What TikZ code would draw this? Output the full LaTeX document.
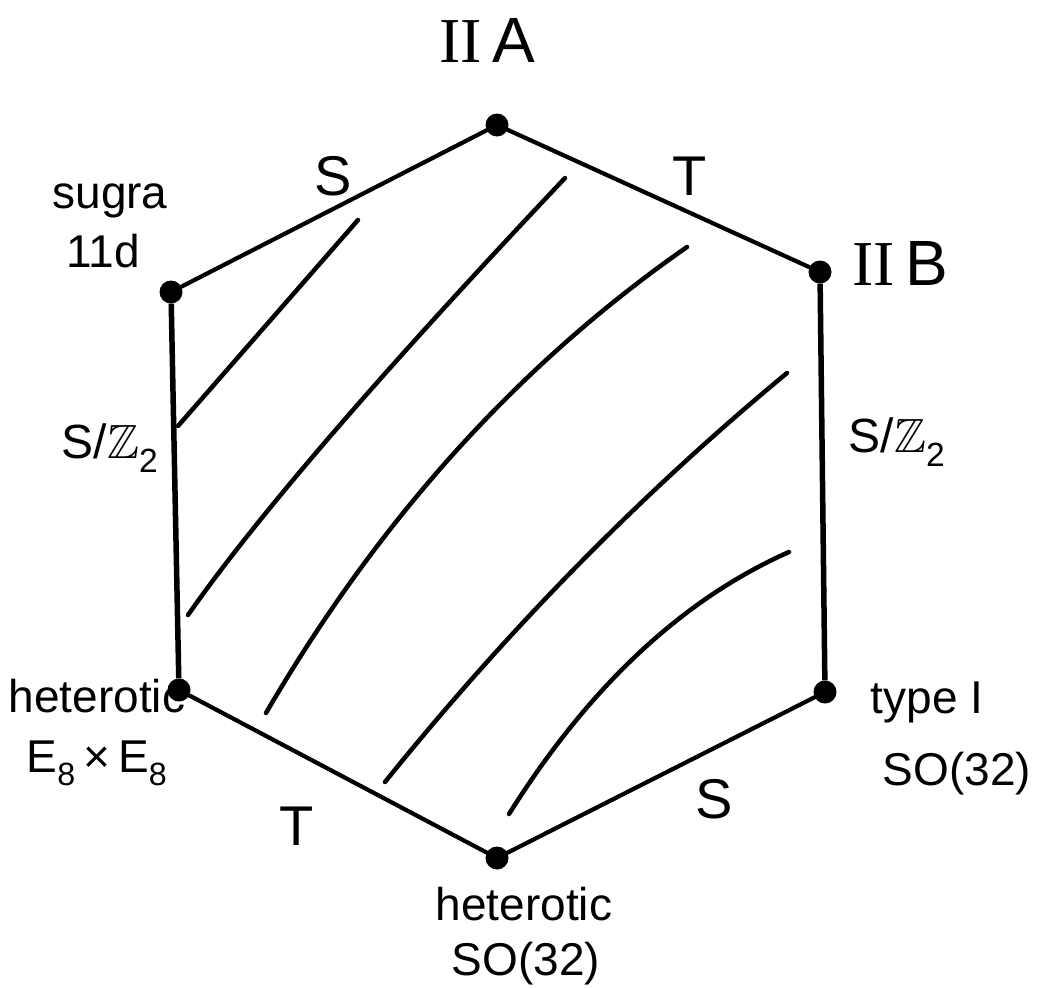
\documentclass[tikz,border=0pt]{standalone}
\usepackage{fontspec}
\usepackage{amssymb}
\setmainfont{Liberation Sans}
\newfontfamily\romfont{Liberation Serif}
\begin{document}
\begin{tikzpicture}[x=1pt,y=-1pt,
  edge/.style={line width=4.2pt,line cap=round},
  vert/.style={line width=5.5pt},
  vdot/.style={circle,fill=black,inner sep=0pt,minimum size=23pt},
  hatch/.style={line width=4.5pt,line cap=round},
  lbl/.style={inner sep=0pt,anchor=base,font=\fontsize{46}{46}\selectfont},
  big/.style={inner sep=0pt,anchor=base,font=\fontsize{64}{64}\selectfont},
  edl/.style={inner sep=0pt,anchor=base,font=\fontsize{56}{56}\selectfont},
  zl/.style={inner sep=0pt,anchor=base,font=\fontsize{48}{48}\selectfont}]
\useasboundingbox (0,0) rectangle (1061,988);
% vertices
\node[vdot] (vA) at (497,125) {};
\node[vdot] (vB) at (820,272) {};
\node[vdot] (vI) at (825,692) {};
\node[vdot] (vH) at (497,858) {};
\node[vdot] (vE) at (179,690) {};
\node[vdot] (vM) at (171,292) {};
% edges
\draw[edge] (vM) -- (vA);
\draw[edge] (vA) -- (vB);
\draw[vert] (vB) -- (vI);
\draw[edge] (vI) -- (vH);
\draw[edge] (vH) -- (vE);
\draw[vert] (vE) -- (vM);
% hatching
\draw[hatch] (178,426) -- (358,220);
\draw[hatch] (188,615) .. controls (255.7,518) and (381.3,372.3) .. (565,178);
\draw[hatch] (266,713) .. controls (379,519) and (519.3,363.7) .. (687,247);
\draw[hatch] (385,782) .. controls (508.3,629) and (642.3,492.7) .. (787,373);
\draw[hatch] (509,814) .. controls (589,686.7) and (682.3,599.3) .. (789,552);
% vertex labels
\node[big] (tIIA) at (487,62) {{\romfont II}\,A};
\node[big] (tIIB) at (900,285) {{\romfont II}\,B};
\node[lbl] (tsug) at (110,208) {sugra};
\node[lbl] (t11d) at (103,267) {11d};
\node[lbl] (thetE) at (97,712) {heterotic};
\node[lbl] (tEE) at (97,772) {E\textsubscript{8}\,×\,E\textsubscript{8}};
\node[lbl] (ttyp) at (927,713) {type I};
\node[lbl] (tso1) at (957,785) {SO(32)};
\node[lbl] (thetS) at (524,920) {heterotic};
\node[lbl] (tso2) at (526,975) {SO(32)};
% edge labels
\node[edl] (lS1) at (333,195) {S};
\node[edl] (lT1) at (690,195) {T};
\node[zl] (lZ1) at (110,458) {S/$\mathbb{Z}$\textsubscript{2}};
\node[zl] (lZ2) at (897,452) {S/$\mathbb{Z}$\textsubscript{2}};
\node[edl] (lT2) at (297,845) {T};
\node[edl] (lS2) at (714,818) {S};
\end{tikzpicture}
\end{document}
